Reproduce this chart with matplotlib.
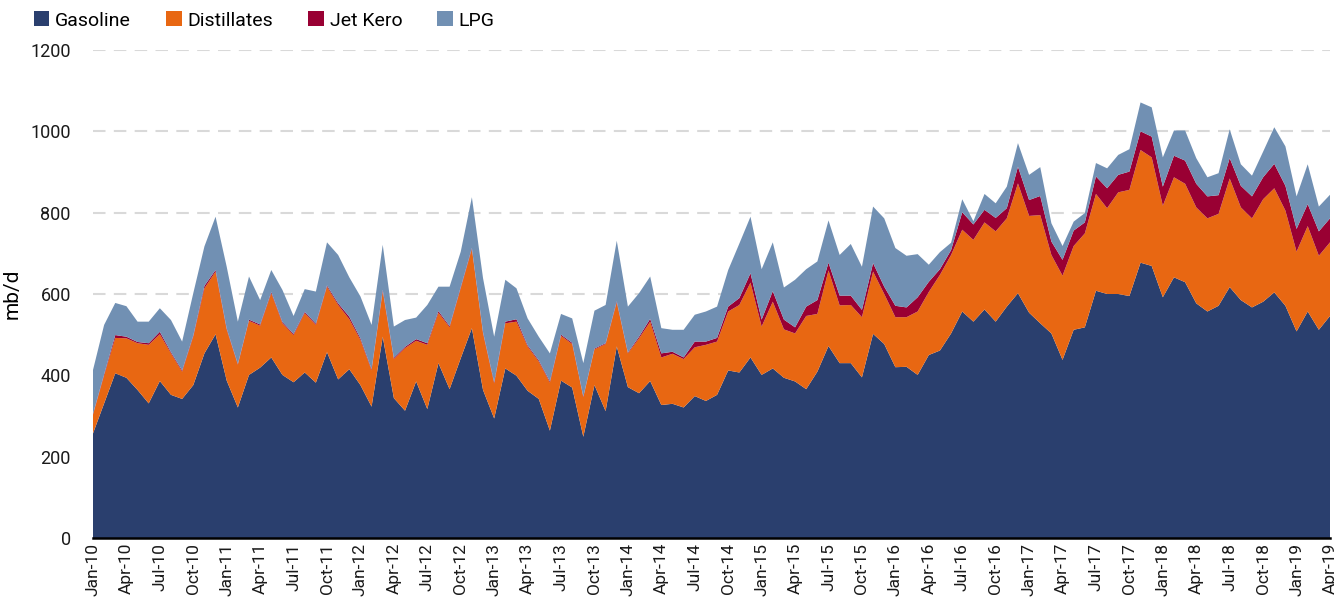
import numpy as np
import pandas as pd
import matplotlib
matplotlib.use("Agg")
from matplotlib import pyplot as plt

# monthly data, Jan-10 .. Apr-19 (mb/d)
months = pd.date_range("2010-01-01", periods=112, freq="MS")

gasoline = [
    257, 331, 405, 394, 364, 331, 386, 352, 342, 376, 454, 501,
    387, 321, 401, 419, 444, 401, 383, 407, 382, 457, 390, 415,
    376, 323, 495, 344, 313, 385, 317, 430, 366, 442, 516, 364,
    294, 417, 399, 362, 342, 264, 387, 370, 249, 376, 312, 471,
    371, 356, 386, 327, 330, 321, 349, 337, 352, 412, 407, 444,
    401, 417, 394, 385, 366, 409, 472, 430, 430, 395, 502, 477,
    420, 421, 401, 450, 461, 503, 557, 532, 562, 532, 569, 602,
    554, 528, 503, 438, 512, 518, 608, 600, 600, 595, 677, 669,
    592, 641, 629, 577, 557, 571, 617, 585, 567, 581, 604, 571,
    508, 557, 512, 546,
]
distillates = [
    46, 69, 87, 97, 115, 144, 115, 102, 67, 119, 160, 154,
    125, 105, 133, 103, 158, 127, 116, 146, 142, 161, 183, 123,
    111, 89, 111, 96, 154, 100, 158, 124, 152, 172, 194, 139,
    86, 111, 133, 109, 92, 118, 110, 107, 97, 88, 165, 108,
    83, 135, 146, 117, 123, 119, 120, 138, 131, 145, 166, 184,
    119, 164, 119, 118, 180, 142, 186, 142, 143, 148, 153, 123,
    123, 122, 156, 155, 186, 193, 201, 201, 214, 222, 217, 270,
    238, 266, 193, 207, 206, 231, 238, 211, 250, 261, 277, 267,
    225, 246, 242, 236, 229, 226, 267, 228, 219, 252, 256, 234,
    196, 210, 182, 181,
]
jet_kero = [
    2, 3, 7, 4, 3, 4, 6, 3, 3, 3, 6, 4,
    3, 2, 3, 3, 3, 3, 3, 3, 3, 3, 4, 6,
    4, 3, 4, 3, 3, 4, 4, 4, 3, 3, 3, 3,
    3, 4, 6, 3, 3, 3, 3, 3, 2, 2, 2, 3,
    2, 4, 7, 10, 5, 4, 14, 8, 9, 12, 17, 23,
    17, 26, 24, 15, 23, 34, 19, 24, 23, 18, 21, 18,
    28, 24, 35, 25, 14, 12, 43, 38, 31, 33, 25, 41,
    39, 47, 33, 39, 38, 27, 43, 49, 43, 45, 46, 51,
    47, 53, 57, 58, 54, 46, 50, 53, 54, 54, 60, 61,
    56, 54, 60, 59,
]
lpg = [
    108, 121, 79, 75, 50, 53, 58, 79, 71, 104, 97, 131,
    152, 104, 106, 60, 54, 79, 44, 56, 79, 106, 119, 97,
    103, 109, 111, 77, 66, 53, 94, 60, 97, 87, 125, 133,
    112, 103, 76, 66, 58, 69, 51, 60, 82, 93, 94, 149,
    113, 107, 104, 62, 54, 68, 66, 74, 77, 90, 134, 139,
    124, 120, 79, 117, 92, 95, 104, 100, 127, 106, 139, 168,
    142, 127, 106, 42, 42, 18, 32, 8, 39, 36, 53, 58,
    62, 71, 45, 34, 22, 23, 33, 49, 49, 55, 71, 72,
    72, 62, 74, 63, 47, 54, 71, 53, 51, 63, 90, 97,
    80, 98, 61, 58,
]

labels = ["Gasoline", "Distillates", "Jet Kero", "LPG"]
colors = ["#2a3f6e", "#e86712", "#990033", "#7190b3"]

plt.rcParams["font.family"] = ["Liberation Sans Narrow", "Roboto", "DejaVu Sans"]

fig = plt.figure(figsize=(13.34, 6.08), dpi=100)
ax = fig.add_axes([0.0697, 0.1151, 0.9273, 0.8027])

x = np.arange(len(months))
ax.stackplot(x, gasoline, distillates, jet_kero, lpg,
             labels=labels, colors=colors, linewidth=0)

ax.set_xlim(0, len(months) - 1)
ax.set_ylim(0, 1200)
ax.set_yticks(range(0, 1201, 200))
ax.yaxis.grid(True, color="#d9d9d9", linestyle=(0, (6, 4)), linewidth=1.5)
ax.set_axisbelow(True)

tick_pos = x[::3]
ax.set_xticks(tick_pos)
ax.set_xticklabels([months[i].strftime("%b-%y") for i in tick_pos],
                   rotation=90, fontsize=12.5)
ax.tick_params(axis="both", length=0, labelsize=13, colors="#1a1a1a")
ax.tick_params(axis="x", labelsize=12.5)
ax.tick_params(axis="y", pad=16)

for side in ["top", "right", "left"]:
    ax.spines[side].set_visible(False)
ax.spines["bottom"].set_linewidth(1.8)
ax.spines["bottom"].set_color("black")

ax.set_ylabel("mb/d", fontsize=15, labelpad=6)

ax.legend(loc="upper left", bbox_to_anchor=(-0.062, 1.115), ncol=4,
          frameon=False, fontsize=14, handlelength=0.8, handleheight=0.8,
          handletextpad=0.3, columnspacing=1.8)

fig.savefig("out.png", dpi=100)
